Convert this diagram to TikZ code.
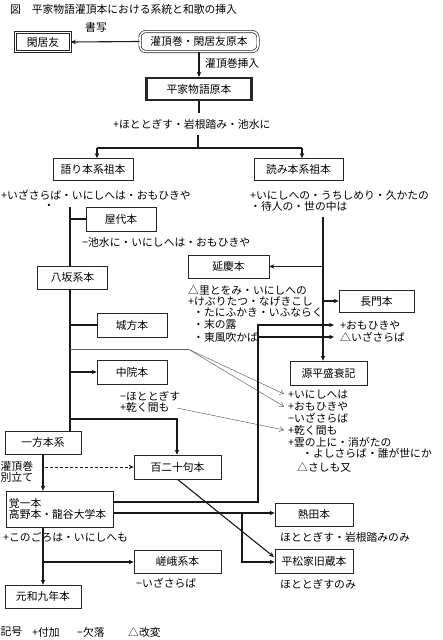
\documentclass[tikz,border=0pt]{standalone}
\usepackage{fontspec}
\setmainfont{Noto Sans CJK JP}
\usetikzlibrary{arrows.meta}
\begin{document}
\begin{tikzpicture}[x=1pt,y=-1pt,
  font=\fontsize{10.8}{12}\selectfont,
  bx/.style={draw=black!85, line width=0.7pt, inner sep=0pt, align=center},
  conn/.style={line width=1.1pt, draw=black!90},
  arr/.style={conn, -{Stealth[length=5pt,width=4.5pt]}},
  thinln/.style={draw=black!60, line width=0.5pt},
  thinarr/.style={thinln, -{Straight Barb[length=4pt,width=5pt]}},
  lbl/.style={inner sep=0pt, anchor=west}]
\useasboundingbox (0,0) rectangle (442,640);

% title
\node[lbl] (title) at (10,9) {図　平家物語灌頂本における系統と和歌の挿入};

% boxes
\node[bx, double, double distance=1.6pt, minimum width=55pt, minimum height=19pt] (kankyo) at (43,42) {閑居友};
\node[bx, double, double distance=1.6pt, rounded corners=6pt, minimum width=118pt, minimum height=20pt] (kanjo) at (199,41.5) {灌頂巻・閑居友原本};
\node[bx, line width=2.2pt, minimum width=105pt, minimum height=22pt] (genpon) at (199,89) {平家物語原本};
\node[bx, minimum width=80pt, minimum height=22pt] (katari) at (93,169.5) {語り本系祖本};
\node[bx, minimum width=89pt, minimum height=22pt] (yomi) at (298.5,169.5) {読み本系祖本};
\node[bx, minimum width=70pt, minimum height=24pt] (yashiro) at (121,219) {屋代本};
\node[bx, minimum width=70pt, minimum height=23pt] (yasaka) at (72.5,277.5) {八坂系本};
\node[bx, minimum width=70pt, minimum height=24pt] (jokata) at (132,325) {城方本};
\node[bx, minimum width=70pt, minimum height=24pt] (chuin) at (132,372) {中院本};
\node[bx, minimum width=76pt, minimum height=23pt] (ippon) at (43,442.5) {一方本系};
\node[bx, minimum width=87pt, minimum height=24pt] (hyaku) at (177.5,467) {百二十句本};
\node[bx, minimum width=107pt, minimum height=36pt, text width=101pt, align=left] (kakuichi) at (59.5,509) {覚一本\\[-1pt]高野本・龍谷大学本};
\node[bx, minimum width=78pt, minimum height=23pt] (atsuta) at (314,514.5) {熱田本};
\node[bx, minimum width=78pt, minimum height=24pt] (hiramatsu) at (314,561) {平松家旧蔵本};
\node[bx, minimum width=87pt, minimum height=23pt] (saga) at (177.5,561.5) {嵯峨系本};
\node[bx, minimum width=76pt, minimum height=23pt] (genna) at (43,596.5) {元和九年本};
\node[bx, minimum width=81pt, minimum height=23pt] (enkyo) at (228.5,266.5) {延慶本};
\node[bx, minimum width=75pt, minimum height=22pt] (nagato) at (376.5,301) {長門本};
\node[bx, minimum width=77pt, minimum height=24pt] (genpei) at (328.5,373) {源平盛衰記};

% labels
\node[lbl] (shosha) at (85,27) {書写};
\node[lbl] (sonyu) at (205,63) {灌頂巻挿入};
\node[lbl] (t-hoto) at (113,124) {+ほととぎす・岩根踏み・池水に};
\node[lbl] (t-kat1) at (1,195) {+いざさらば・いにしへは・おもひきや};
\node (t-kat2) at (49,207) {・};
\node[lbl] (t-yomi1) at (250,195) {+いにしへの・うちしめり・久かたの};
\node[lbl] (t-yomi2) at (250,206) {・待人の・世の中は};
\node[lbl] (t-yashiro) at (82,242) {−池水に・いにしへは・おもひきや};
\node[lbl] (t-en1) at (188,290) {△里とをみ・いにしへの};
\node[lbl] (t-en2) at (188,301) {+けぶりたつ・なげきこし};
\node[lbl] (t-en3) at (193,312.5) {・たにふかき・いふならく};
\node[lbl] (t-en4) at (193,324.5) {・末の露};
\node[lbl] (t-en5) at (193,337) {・東風吹かば};
\node[lbl] (t-na1) at (340,325) {+おもひきや};
\node[lbl] (t-na2) at (340,337) {△いざさらば};
\node[lbl] (t-ch1) at (120,396) {−ほととぎす};
\node[lbl] (t-ch2) at (120,407.5) {+乾く間も};
\node[lbl] (t-ge1) at (288,395) {+いにしへは};
\node[lbl] (t-ge2) at (288,406.5) {+おもひきや};
\node[lbl] (t-ge3) at (288,418) {−いざさらば};
\node[lbl] (t-ge4) at (288,430) {+乾く間も};
\node[lbl] (t-ge5) at (288,442) {+雲の上に・消がたの};
\node[lbl] (t-ge6) at (302,453) {・よしさらば・誰が世にか};
\node[lbl] (t-ge7) at (297,467) {△さしも又};
\node[lbl] (t-bet1) at (0.5,466) {灌頂巻};
\node[lbl] (t-bet2) at (0.5,477.5) {別立て};
\node[lbl] (t-kaku) at (3,537) {+このごろは・いにしへも};
\node[lbl] (t-atsu) at (280,537) {ほととぎす・岩根踏みのみ};
\node[lbl] (t-hira) at (280,584) {ほととぎすのみ};
\node[lbl] (t-saga) at (136,583) {−いざさらば};
\node[lbl] (leg1) at (0.5,632) {記号};
\node[lbl] (leg2) at (32,632) {+付加};
\node[lbl] (leg3) at (77,632) {−欠落};
\node[lbl] (leg4) at (128,632) {△改変};

% coordinates
\coordinate (g1) at (198,113);
\coordinate (g2) at (198,135);
\coordinate (g3) at (198,148);
\coordinate (gl) at (97,148);
\coordinate (gr) at (302,148);
\coordinate (lt) at (70,207);
\coordinate (rt) at (323,217);
\coordinate (s1) at (70,349);
\coordinate (s2) at (188,349);
\coordinate (s3) at (284,394);
\coordinate (s4) at (284,406.5);
\coordinate (s5) at (177,408);
\coordinate (s6) at (284,430);
\coordinate (h1) at (70,419);
\coordinate (h2) at (177,419);
\coordinate (d1) at (45,467);
\coordinate (u1) at (258,502);
\coordinate (u2) at (258,325);
\coordinate (u3) at (334,325);
\coordinate (u4) at (258,337);
\coordinate (u5) at (334,337);
\coordinate (a1) at (242,513);
\coordinate (a2) at (242,562);
\coordinate (p1) at (274,557);
\coordinate (b1) at (43,562);

% connectors
\draw[arr] (kanjo.west) -- (kankyo.east);
\draw[arr] (kanjo.south) -- (genpon.north);
\draw[conn] (genpon.south) -- (genpon.south |- g1);
\draw[conn] (g2) -- (g3);
\draw[conn] (gl) -- (gr);
\draw[arr] (gl) -- (gl |- katari.north);
\draw[arr] (gr) -- (gr |- yomi.north);

\draw[conn] (lt) -- (lt |- yasaka.north);
\draw[conn] (lt |- yashiro.west) -- (yashiro.west);
\draw[conn] (lt |- yasaka.south) -- (lt |- ippon.north);
\draw[conn] (lt |- jokata.west) -- (jokata.west);
\draw[arr] (lt |- chuin.west) -- (chuin.west);
\draw[arr] (h1) -- (h2) -- (h2 |- hyaku.north);

\draw[thinln] (s1) -- (s2);
\draw[thinarr] (s2) -- (s3);
\draw[thinarr] (s2) -- (s4);
\draw[thinarr] (s5) -- (s6);

\draw[arr] (ippon.south) -- (ippon.south |- kakuichi.north);
\draw[arr, line width=1pt, dash pattern=on 3pt off 2pt] (d1) -- (hyaku.west);

\draw[arr] (kakuichi.east |- u1) -- (u1) -- (u2) -- (u3);
\draw[arr] (u4) -- (u5);
\draw[arr] (kakuichi.east |- a1) -- (atsuta.west |- a1);
\draw[arr] (a1) -- (a2) -- (hiramatsu.west |- a2);
\draw[arr] (hyaku.south) -- (p1);
\draw[arr] (ippon.south |- kakuichi.south) -- (genna.north);
\draw[arr] (b1) -- (saga.west |- b1);

\draw[arr] (rt) -- (rt |- genpei.north);
\draw[arr] (rt |- enkyo.east) -- (enkyo.east);
\draw[arr] (rt |- nagato.west) -- (nagato.west);
\end{tikzpicture}
\end{document}
